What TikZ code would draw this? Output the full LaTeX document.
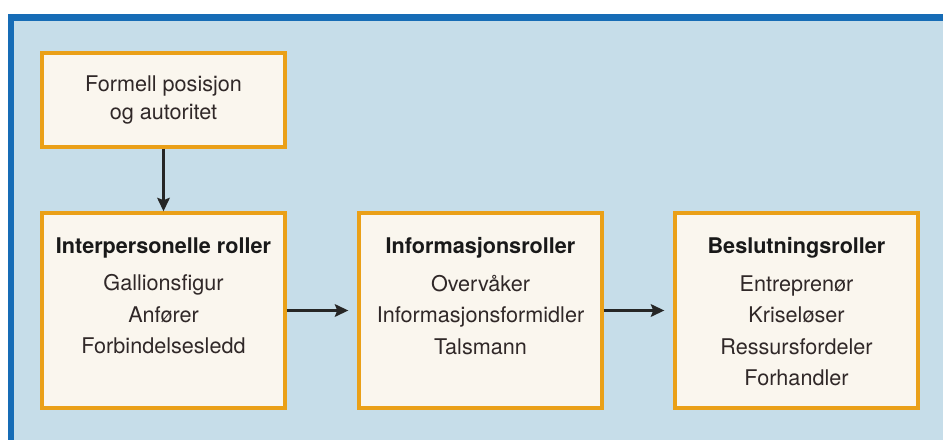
\documentclass[tikz,border=0pt]{standalone}
\usepackage{fontspec}
\setmainfont{TeX Gyre Heros}
\usetikzlibrary{arrows.meta}
\usetikzlibrary{positioning}
\definecolor{frameblue}{RGB}{22,108,182}
\definecolor{paleblue}{RGB}{198,221,233}
\definecolor{boxorange}{RGB}{234,160,24}
\definecolor{boxfill}{RGB}{250,246,238}
\definecolor{inkgrey}{RGB}{48,40,40}
\newcommand{\rolehead}[1]{\textbf{\color{black!90}#1}}

\begin{document}
\begin{tikzpicture}[
  rolebox/.style={draw=boxorange,line width=3.2pt,fill=boxfill,minimum width=8.1cm,minimum height=6.5cm,inner sep=0pt},
  topbox/.style={draw=boxorange,line width=3.2pt,fill=boxfill,minimum width=8.1cm,minimum height=3.133cm,align=center,text=inkgrey,font=\fontsize{20.5}{26.5}\selectfont},
  roletext/.style={align=center,inner sep=0pt,text=inkgrey,font=\fontsize{20.5}{29.9}\selectfont},
  flow/.style={-{Stealth[length=0.45cm,width=0.42cm,inset=0.08cm]},line width=2.3pt,black!85}
]
\useasboundingbox (0,0) rectangle (31.433,14.667);
\fill[white] (0,0) rectangle (31.433,14.667);
\fill[frameblue] (0.267,0) rectangle (31.433,14.2);
\fill[paleblue] (0.467,0) rectangle (31.433,13.967);

\node[topbox] (formell) at (5.45,11.333) {Formell posisjon\\og autoritet};
\node[rolebox] (inter) at (5.45,4.317) {};
\node[rolebox] (info) at (16.017,4.317) {};
\node[rolebox] (beslut) at (26.55,4.317) {};

\node[roletext,below=0.87cm of inter.north] (inter-txt) {\rolehead{Interpersonelle roller}\\[0.2cm]Gallionsfigur\\Anfører\\Forbindelsesledd};
\node[roletext,below=0.87cm of info.north] (info-txt) {\rolehead{Informasjonsroller}\\[0.2cm]Overvåker\\Informasjonsformidler\\Talsmann};
\node[roletext,below=0.87cm of beslut.north] (beslut-txt) {\rolehead{Beslutningsroller}\\[0.2cm]Entreprenør\\Kriseløser\\Ressursfordeler\\Forhandler};

\draw[flow] (formell) -- (inter);
\draw[flow,shorten >=0.3cm] (inter) -- (info);
\draw[flow,shorten >=0.3cm] (info) -- (beslut);
\end{tikzpicture}
\end{document}
